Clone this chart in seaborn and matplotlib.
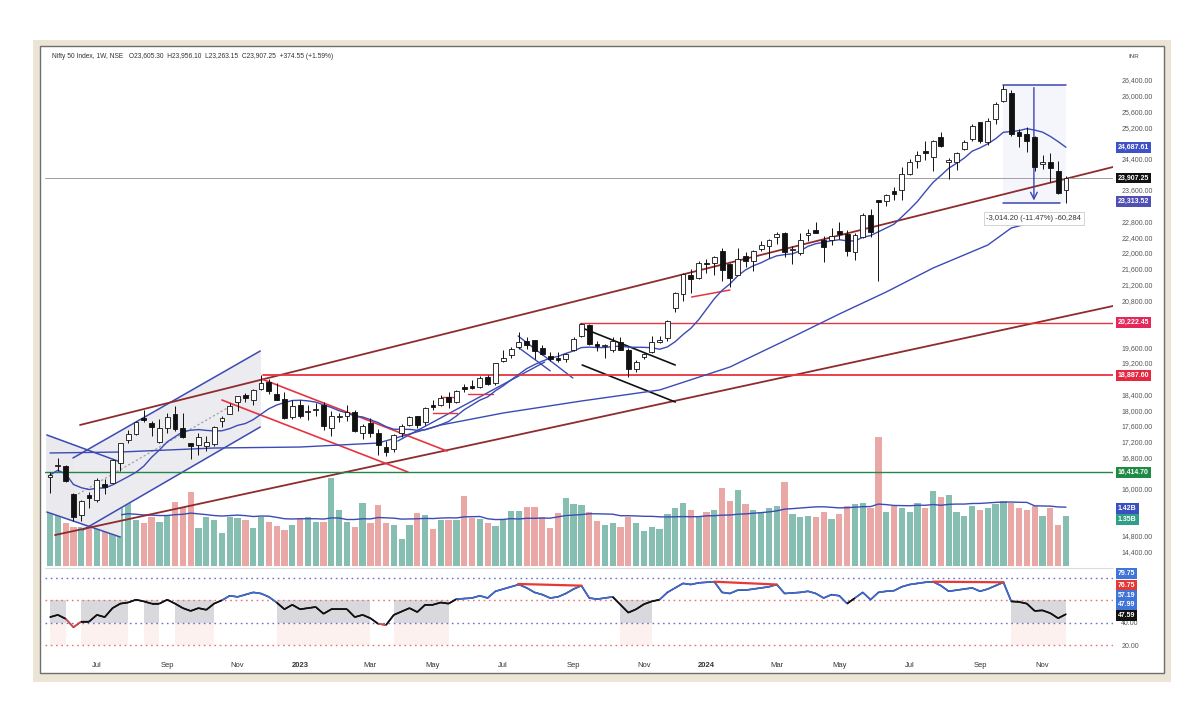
import numpy as np
import pandas as pd
import matplotlib
matplotlib.use("Agg")
import matplotlib.pyplot as plt
import matplotlib.transforms as mtransforms
from matplotlib.collections import LineCollection
from matplotlib.patches import Rectangle
import seaborn as sns

# Nifty 50, weekly candles, week of 23 May 2022 .. week of 18 Nov 2024
open_ = [16290, 16580, 16570, 15877, 15334, 15828, 15710, 16128, 16151, 16662,
         17243, 17402, 17797, 17682, 17188, 17546, 17890, 17540, 17156, 17102,
         17095, 17144, 17736, 17910, 18211, 18376, 18246, 18529, 18719, 18402,
         18288, 17830, 18131, 17953, 17992, 18119, 17541, 17818, 17859, 17965,
         17429, 17680, 17422, 17066, 17016, 17428, 17634, 17863, 17707, 18124,
         18121, 18339, 18201, 18600, 18612, 18596, 18849, 18683, 19246, 19400,
         19612, 19750, 19784, 19576, 19383, 19320, 19298, 19525, 19890, 20155,
         19678, 19623, 19539, 19730, 19521, 19053, 19345, 19486, 19731, 19844,
         20601, 20966, 21434, 21365, 21727, 21747, 22053, 21716, 21433, 21921,
         21790, 22104, 22169, 22403, 22517, 22063, 21989, 22455, 22579, 22339,
         22336, 22568, 22489, 22027, 22404, 22977, 23337, 23319, 23570, 23597,
         24010, 24329, 24587, 24445, 24943, 24302, 24320, 24636, 24906, 25333,
         24823, 25406, 25872, 26061, 25084, 25023, 24956, 24251, 24315, 24087,
         23605]
high_ = [16415, 16794, 16610, 15886, 15707, 15927, 16275, 16248, 16752, 17172,
         17490, 17719, 17992, 17727, 17777, 17925, 18096, 17919, 17176, 17429,
         17348, 17607, 17838, 18176, 18362, 18443, 18534, 18888, 18781, 18696,
         18473, 18265, 18252, 18141, 18183, 18201, 17972, 17917, 18134, 18004,
         17645, 17800, 17529, 17207, 17381, 17638, 17842, 17863, 18089, 18267,
         18389, 18458, 18508, 18662, 18777, 18864, 18887, 19201, 19523, 19595,
         19991, 19867, 19795, 19645, 19480, 19489, 19458, 19867, 20222, 20196,
         19766, 19675, 19849, 19849, 19593, 19277, 19464, 19875, 19875, 20291,
         21006, 21492, 21593, 21801, 21834, 21928, 22124, 21751, 22127, 22011,
         22069, 22297, 22353, 22526, 22527, 22181, 22516, 22619, 22775, 22427,
         22625, 22794, 22588, 22503, 23026, 23110, 23338, 23490, 23667, 24174,
         24401, 24592, 24854, 24861, 25078, 24420, 24573, 24867, 25268, 25333,
         25433, 25849, 26277, 26135, 25143, 25212, 24978, 24499, 24537, 24336,
         23956]
low_ = [15903, 16444, 16172, 15183, 15191, 15511, 15661, 15858, 16143, 16439,
        17154, 17359, 17710, 17345, 17166, 17429, 17471, 17291, 16748, 16856,
        16950, 17098, 17559, 17899, 17969, 18210, 18133, 18511, 18410, 18255,
        17780, 17774, 17796, 17761, 17853, 17494, 17353, 17697, 17720, 17455,
        17255, 17324, 16850, 16828, 16941, 17313, 17598, 17553, 17613, 17999,
        18100, 18060, 18178, 18465, 18531, 18558, 18647, 18647, 19234, 19327,
        19562, 19564, 19296, 19413, 19254, 19229, 19224, 19503, 19866, 19657,
        19492, 19333, 19480, 19518, 18837, 18974, 19309, 19443, 19703, 19768,
        20507, 20769, 20977, 21330, 21500, 21449, 21285, 21137, 21429, 21629,
        21530, 22045, 21875, 22224, 21905, 21710, 21947, 22305, 22503, 21777,
        22198, 22348, 21932, 21821, 22368, 22417, 21281, 23206, 23350, 23350,
        23992, 24168, 24362, 24074, 24686, 23893, 24099, 24607, 24852, 24801,
        24754, 25285, 25847, 24966, 24694, 24567, 24073, 24141, 23817, 23509,
        23263]
close_ = [16352, 16584, 16202, 15293, 15699, 15752, 16221, 16049, 16719, 17158,
          17397, 17698, 17758, 17559, 17539, 17833, 17531, 17327, 17094, 17315,
          17186, 17576, 17787, 18117, 18350, 18308, 18512, 18696, 18497, 18269,
          17807, 18105, 17859, 17956, 18027, 17604, 17854, 17856, 17944, 17466,
          17594, 17413, 17100, 16945, 17360, 17600, 17828, 17624, 18065, 18069,
          18315, 18203, 18499, 18534, 18563, 18826, 18665, 19189, 19332, 19564,
          19745, 19646, 19517, 19428, 19310, 19265, 19435, 19820, 20192, 19674,
          19638, 19654, 19751, 19542, 19047, 19231, 19425, 19732, 19795, 20268,
          20969, 21457, 21349, 21731, 21711, 21895, 21572, 21353, 21854, 21783,
          22041, 22213, 22339, 22494, 22023, 22097, 22327, 22514, 22519, 22147,
          22420, 22476, 22055, 22467, 22957, 22531, 23290, 23466, 23501, 24011,
          24324, 24502, 24531, 24835, 24718, 24368, 24541, 24823, 25236, 24852,
          25357, 25791, 26179, 25015, 24964, 24854, 24181, 24305, 24148, 23533,
          23907]
# weekly volume, billions
volume_ = [1.72, 1.72, 1.15, 1.05, 1.05, 1.50, 1.50, 1.05, 1.23, 1.72,
           1.72, 1.23, 1.15, 1.31, 1.18, 1.37, 1.72, 1.58, 1.98, 1.02,
           1.31, 1.23, 0.88, 1.31, 1.29, 1.23, 1.02, 1.31, 1.18, 1.07,
           0.96, 1.10, 1.29, 1.31, 1.18, 1.18, 2.36, 1.50, 1.18, 1.05,
           1.69, 1.15, 1.63, 1.15, 1.10, 0.72, 1.10, 1.42, 1.37, 0.99,
           1.23, 1.23, 1.23, 1.88, 1.29, 1.26, 1.15, 1.07, 1.26, 1.47,
           1.47, 1.58, 1.58, 1.31, 1.02, 1.42, 1.82, 1.66, 1.63, 1.45,
           1.20, 1.10, 1.15, 1.05, 1.30, 1.15, 0.95, 1.05, 1.00, 1.40,
           1.55, 1.70, 1.50, 1.35, 1.45, 1.50, 2.10, 1.75, 2.05, 1.65,
           1.50, 1.45, 1.55, 1.60, 2.25, 1.40, 1.30, 1.35, 1.30, 1.45,
           1.25, 1.40, 1.60, 1.65, 1.70, 1.55, 3.45, 1.45, 1.60, 1.55,
           1.45, 1.70, 1.55, 2.00, 1.85, 1.90, 1.45, 1.35, 1.60, 1.50,
           1.55, 1.65, 1.75, 1.70, 1.55, 1.50, 1.60, 1.35, 1.55, 1.10,
           1.35]
# RSI values
rsi_ = [45, 47, 43.5, 36, 41, 41, 47, 45, 53, 57,
        58, 60.5, 59, 57, 57, 60.5, 57, 53, 50.5, 53,
        51.5, 57, 60, 64, 63, 65, 67, 66, 63, 58,
        52, 56, 52, 53, 54, 48, 52, 52, 52, 45,
        47, 44, 39, 38, 47, 50, 53, 49.5, 56, 56,
        58, 57, 61, 61.5, 62, 64, 62, 68, 70, 72,
        74, 71, 67, 65, 62, 63, 66, 70, 73, 62,
        61, 62, 63, 56, 49, 52, 56.5, 59, 60.5, 67,
        71, 75, 74, 75.5, 76, 76.5, 67, 66, 69, 69,
        70, 71, 72, 74, 66, 66.5, 67, 68, 66, 62,
        65, 64, 57, 62, 67, 60.5, 67, 68, 68.5, 72,
        74, 75, 76, 76.5, 73, 68, 69, 70, 71, 68,
        70, 73, 76, 59, 58.5, 57, 50.5, 51, 48.5, 44,
        47.59]
# slow moving average, read at a few weeks
slow_week = [0, 9, 21, 32, 42, 50, 58, 68, 78, 87, 95, 101, 107, 113, 120, 123, 130]
slow_val = [16910, 16934, 17036, 17061, 17163, 17621, 17927, 18232, 18512, 19097,
            19860, 20446, 21006, 21616, 22201, 22634, 23000]

tick_week = [6, 15, 24, 32, 41, 49, 58, 67, 76, 84, 93, 101, 110, 119, 127]
tick_lbl = ["Jul", "Sep", "Nov", "2023", "Mar", "May", "Jul", "Sep", "Nov",
            "2024", "Mar", "May", "Jul", "Sep", "Nov"]

df = pd.DataFrame({"week": np.arange(len(close_)), "open": open_, "high": high_,
                   "low": low_, "close": close_, "volume": volume_, "rsi": rsi_})
df["up"] = df["close"] >= df["open"]
df["sma10"] = df["close"].rolling(10, min_periods=1).mean()
df["vol_ma"] = df["volume"].rolling(20, min_periods=1).mean()

sns.set_theme(style="white")
plt.rcParams["font.family"] = ["Liberation Sans", "DejaVu Sans"]

TEAL, SALMON = "#7cc9b7", "#f49c9b"
BLUE, BROWN, RED, GREEN = "#3c4bb4", "#8e2b2e", "#e8333f", "#23874a"

W, H = 1200, 720
def fx(px): return px / W
def fy(py): return 1 - py / H

fig = plt.figure(figsize=(12, 7.2), dpi=100, facecolor="white")
fig.add_artist(Rectangle((fx(33), fy(682)), fx(1171) - fx(33), fy(40) - fy(682),
                         transform=fig.transFigure, fc="#ece5d6", ec="none", zorder=-2))
fig.add_artist(Rectangle((fx(40), fy(673)), fx(1164) - fx(40), fy(46) - fy(673),
                         transform=fig.transFigure, fc="white", ec="#6e6e6e", lw=1.0, zorder=-1))

XMIN, XMAX = -0.64, 136.02
PMIN, PMAX = 14034, 27163
VMAX = 13.83
rect = [fx(45), fy(566), fx(1113) - fx(45), fy(50) - fy(566)]
axv = fig.add_axes(rect)
ax = fig.add_axes(rect)
axr = fig.add_axes([fx(45), fy(656), fx(1113) - fx(45), fy(568) - fy(656)])
axv.set_zorder(1)
ax.set_zorder(2)
for a in (axv, ax, axr):
    a.patch.set_visible(False)
    for s in a.spines.values():
        s.set_visible(False)

# volume overlay
sns.barplot(data=df, x="week", y="volume", hue="up", palette={True: TEAL, False: SALMON},
            native_scale=True, dodge=False, width=0.8, linewidth=0, errorbar=None,
            legend=False, ax=axv)
sns.lineplot(data=df, x="week", y="vol_ma", color=BLUE, lw=1.0, ax=axv)
axv.set_xlim(XMIN, XMAX)
axv.set_ylim(0, VMAX)
axv.set_xticks([])
axv.set_yticks([])
axv.set_xlabel("")
axv.set_ylabel("")

# drawings: channels and trend lines
ax.fill([-0.4, 9.0, 9.0, -0.4], [17367, 16680, 14771, 15407], color="#e9e9ee", zorder=0.5)
ax.fill([2.94, 26.9, 26.9, 4.2], [16782, 19504, 17571, 14950], color="#ebebf0", zorder=0.5)
ax.plot([-0.4, 9.0], [17367, 16680], color=BLUE, lw=1.1)
ax.plot([-0.4, 9.0], [15407, 14771], color=BLUE, lw=1.1)
ax.plot([2.94, 26.9], [16782, 19504], color=BLUE, lw=1.1)
ax.plot([4.2, 26.9], [14950, 17571], color=BLUE, lw=1.1)
ax.plot([3.6, 26.9], [15866, 18537], color="#9a9a9a", lw=0.8, ls=(0, (2, 2)))
ax.plot([44.5, 63.3], [17214, 19224], color=BLUE, lw=1.0)
ax.plot([59.9, 66.9], [19886, 18817], color=BLUE, lw=1.0)
ax.plot([59.9, 64.0], [19600, 19000], color=BLUE, lw=1.0)

ax.plot([3.84, XMAX], [17622, 24186], color=BROWN, lw=1.3)
ax.plot([0.64, XMAX], [14822, 20649], color=BROWN, lw=1.3)

ax.plot([27.1, 50.8], [18792, 16960], color=RED, lw=1.2)
ax.plot([22.0, 45.8], [18257, 16425], color=RED, lw=1.2)
ax.plot([68.1, 80.0], [20090, 19148], color="#111111", lw=1.2)
ax.plot([68.1, 80.0], [19148, 18207], color="#111111", lw=1.2)
ax.plot([82.1, 87.0], [20878, 21056], color=RED, lw=1.1)
ax.plot([49.0, 52.1], [17927, 17927], color=RED, lw=1.0)
ax.plot([50.2, 52.1], [18335, 18335], color=RED, lw=1.0)
ax.plot([53.5, 56.7], [18410, 18410], color=RED, lw=1.0)

ax.plot([27.3, XMAX], [18887.60, 18887.60], color=RED, lw=1.3)
ax.plot([67.8, XMAX], [20222.45, 20222.45], color=RED, lw=1.0)
ax.axhline(16414.70, color=GREEN, lw=1.0)
ax.axhline(23907.25, color="#a0a0a0", lw=0.7)

# moving averages
sns.lineplot(data=df, x="week", y="sma10", color=BLUE, lw=1.0, ax=ax)
sns.lineplot(x=slow_week, y=slow_val, color=BLUE, lw=1.0, ax=ax)

# candles
ax.vlines(df["week"], df["low"], df["high"], color="#111111", lw=0.7, zorder=3)
body_lo = np.minimum(df["open"], df["close"])
body_h = np.maximum(np.abs(df["close"] - df["open"]), 22)
ax.bar(df["week"], body_h, bottom=body_lo, width=0.62,
       color=np.where(df["up"], "white", "#111111"), edgecolor="#111111",
       linewidth=0.6, zorder=4)

# price range measure
MB = "#3d44b0"
ax.fill_between([122, 130], 23263, 26277, color="#5c6bc0", alpha=0.06, lw=0)
ax.plot([122, 130], [26277, 26277], color=MB, lw=1.1)
ax.plot([122, 129.3], [23263, 23263], color=MB, lw=1.1)
ax.annotate("", xy=(125.9, 23263), xytext=(125.9, 26277),
            arrowprops=dict(arrowstyle="->", color=MB, lw=1.0))
ax.text(125.9, 22880, "-3,014.20 (-11.47%) -60,284", ha="center", va="center",
        fontsize=5.5, color="#333333", zorder=6,
        bbox=dict(boxstyle="square,pad=0.35", fc="white", ec="#cccccc", lw=0.6))

# price scale; ticks hidden where a value tag sits on top of them
price_tags = [(24687.61, "24,687.61", "#3f51c6"), (23907.25, "23,907.25", "#111111"),
              (23313.52, "23,313.52", "#4f4fb5"), (20222.45, "20,222.45", "#e5285a"),
              (18887.60, "18,887.60", "#e5283f"), (16414.70, "16,414.70", "#1e8a45")]
vol_tags = [(1.42, "1.42B", "#3a4fc0", 3), (1.35, "1.35B", "#2f9f88", -3)]
covered = [v for v, _, _ in price_tags] + [PMIN + v / VMAX * (PMAX - PMIN) for v, _, _, _ in vol_tags]
price_ticks = np.arange(14400, 26401, 400)
ax.set_xlim(XMIN, XMAX)
ax.set_ylim(PMIN, PMAX)
ax.set_xticks([])
ax.set_xlabel("")
ax.set_ylabel("")
ax.yaxis.tick_right()
ax.set_yticks(price_ticks)
ax.set_yticklabels(["" if min(abs(t - c) for c in covered) < 240 else f"{t:,.2f}" for t in price_ticks])
ax.tick_params(axis="y", length=0, pad=6, labelsize=5, labelcolor="#555555")

# RSI pane
mask = (df["rsi"] < 60) & (df["rsi"] >= 40)
axr.fill_between(df["week"], 40, 60, where=mask, step="mid", color="#d9d9dd", lw=0)
axr.fill_between(df["week"], 20, 40, where=mask, step="mid", color="#fdf1ef", lw=0)
for lvl, c in [(80, "#6675cc"), (60, "#e57373"), (40, "#6675cc"), (20, "#e57373")]:
    axr.axhline(lvl, color=c, lw=1.0, ls=(0, (1.2, 2.6)))
sns.lineplot(data=df, x="week", y="rsi", color="#111111", lw=1.1, ax=axr)
pts = np.column_stack([df["week"], df["rsi"]])
segs = np.stack([pts[:-1], pts[1:]], axis=1)
mid = (df["rsi"].values[:-1] + df["rsi"].values[1:]) / 2
seg_col = np.where(mid >= 60, "#3f6bd4", np.where(mid < 40, "#e04848", "#111111"))
axr.add_collection(LineCollection(segs, colors=seg_col, linewidths=1.2, zorder=3))
for x0, y0, x1, y1 in [(59.9, 74.5, 68.0, 73.0), (85.0, 76.5, 93.0, 74.0), (113.0, 76.5, 122.0, 76.0)]:
    axr.plot([x0, x1], [y0, y1], color="#e53935", lw=1.6, zorder=4)
axr.set_xlim(XMIN, XMAX)
axr.set_ylim(10.4, 88.7)
axr.set_xlabel("")
axr.set_ylabel("")
axr.yaxis.tick_right()
axr.set_yticks([20, 40])
axr.set_yticklabels(["20.00", "40.00"])
axr.tick_params(axis="y", length=0, pad=6, labelsize=5, labelcolor="#555555")
axr.set_xticks(tick_week)
axr.set_xticklabels(tick_lbl)
axr.tick_params(axis="x", length=0, pad=4, labelsize=5.5, labelcolor="#333333")
for t in axr.get_xticklabels():
    if t.get_text().isdigit():
        t.set_fontweight("bold")
axr.plot([XMIN, XMAX], [88.7, 88.7], color="#dddddd", lw=0.8, clip_on=False)

# coloured value tags on the right scale
def tag(axis, yval, text, color, dy=0, ydata=None):
    tr = mtransforms.blended_transform_factory(axis.transAxes, (ydata or axis).transData)
    axis.annotate(text, xy=(1.0, yval), xycoords=tr, xytext=(3.5, dy), textcoords="offset points",
                  ha="left", va="center", fontsize=5, color="white", fontweight="bold",
                  bbox=dict(boxstyle="square,pad=0.28", fc=color, ec="none"),
                  annotation_clip=False, zorder=10)

for v, txt, c in price_tags:
    tag(ax, v, txt, c)
for v, txt, c, dy in vol_tags:
    tag(ax, v, txt, c, dy=dy, ydata=axv)
tag(axr, 79.75, "79.75", "#3f74d8", dy=3.5)
tag(axr, 76.75, "76.75", "#e53935", dy=-3)
tag(axr, 57.19, "57.19", "#3f74d8", dy=6)
tag(axr, 57.19, "47.99", "#3f74d8", dy=-1)
tag(axr, 47.59, "47.59", "#111111", dy=-1)

fig.text(fx(52), fy(57), "Nifty 50 Index, 1W, NSE   O23,605.30  H23,956.10  L23,263.15  C23,907.25  +374.55 (+1.59%)",
         fontsize=4.8, color="#333333", va="center")
fig.text(fx(1128), fy(57), "INR", fontsize=4.5, color="#444444", va="center")

fig.savefig("out.png", dpi=100)
